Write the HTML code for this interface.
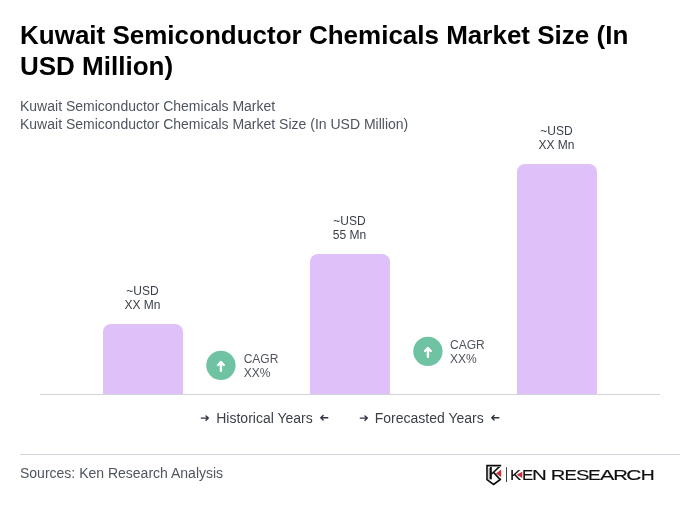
<!DOCTYPE html>
<html><head><meta charset="utf-8">
<style>
html,body{margin:0;padding:0;background:#fff;}
body{width:700px;height:520px;position:relative;overflow:hidden;font-family:"Liberation Sans",sans-serif;color:#111;}
h1{position:absolute;left:20px;top:20px;margin:0;font-size:26px;line-height:31px;font-weight:bold;color:#000;width:660px;}
.sub{position:absolute;left:20px;font-size:14px;line-height:18px;color:#4e555f;white-space:nowrap;}
.bar{position:absolute;background:#dfc0f8;border-radius:8px 8px 0 0;width:80px;}
.lbl{position:absolute;width:80px;text-align:center;font-size:12px;line-height:14px;color:#3a3f48;}
.axis{position:absolute;left:40px;top:394px;width:620px;height:1px;background:#d1d5db;}
.cagr{position:absolute;font-size:12px;line-height:14px;color:#4e555f;}
.leg{position:absolute;top:409px;font-size:14px;line-height:18px;color:#3a3f48;white-space:nowrap;}
.hr{position:absolute;left:20px;top:454px;width:660px;height:1px;background:#d1d5db;}
.src{position:absolute;left:20px;top:464px;font-size:14px;line-height:18px;color:#4e555f;}
</style></head><body>
<h1>Kuwait Semiconductor Chemicals Market Size (In USD Million)</h1>
<div class="sub" style="top:97px">Kuwait Semiconductor Chemicals Market</div>
<div class="sub" style="top:115px">Kuwait Semiconductor Chemicals Market Size (In USD Million)</div>

<div class="bar" style="left:103px;top:324px;height:70px"></div>
<div class="bar" style="left:310px;top:254px;height:140px"></div>
<div class="bar" style="left:517px;top:164px;height:230px"></div>
<div class="lbl" style="left:102.5px;top:284px">~USD<br>XX Mn</div>
<div class="lbl" style="left:309.5px;top:214px">~USD<br>55 Mn</div>
<div class="lbl" style="left:516.5px;top:124px">~USD<br>XX Mn</div>
<div class="axis"></div>

<svg style="position:absolute;left:203px;top:348px" width="36" height="36" viewBox="203 348 36 36"><circle cx="220.9" cy="365.35" r="14.7" fill="#6fc3a3"/><path transform="translate(206.40 351.00)" d="M14.5 19.7V11.5M11.6 14L14.5 11.1L17.4 14" fill="none" stroke="#fff" stroke-width="2.4" stroke-linecap="round" stroke-linejoin="round"/></svg>
<div class="cagr" style="left:243.7px;top:352px">CAGR<br>XX%</div>
<svg style="position:absolute;left:410px;top:334px" width="36" height="36" viewBox="410 334 36 36"><circle cx="427.9" cy="351.35" r="14.7" fill="#6fc3a3"/><path transform="translate(413.40 337.00)" d="M14.5 19.7V11.5M11.6 14L14.5 11.1L17.4 14" fill="none" stroke="#fff" stroke-width="2.4" stroke-linecap="round" stroke-linejoin="round"/></svg>
<div class="cagr" style="left:450px;top:338px">CAGR<br>XX%</div>

<div class="leg" style="left:216.25px">Historical Years</div>
<div class="leg" style="left:374.75px">Forecasted Years</div>
<svg style="position:absolute;left:200px;top:413px" width="10" height="10" viewBox="0 0 10 10"><path d="M1.3 5.1H8.3M6 2.9L8.3 5.1L6 7.3" fill="none" stroke="#2f353f" stroke-width="1.45" stroke-linecap="round" stroke-linejoin="round"/></svg>
<svg style="position:absolute;left:318.7px;top:413px" width="10" height="10" viewBox="0 0 10 10"><path d="M8.8 4.7H1.8M4.1 2.5L1.8 4.7L4.1 6.9" fill="none" stroke="#2f353f" stroke-width="1.45" stroke-linecap="round" stroke-linejoin="round"/></svg>
<svg style="position:absolute;left:359px;top:413px" width="10" height="10" viewBox="0 0 10 10"><path d="M1.3 5.1H8.3M6 2.9L8.3 5.1L6 7.3" fill="none" stroke="#2f353f" stroke-width="1.45" stroke-linecap="round" stroke-linejoin="round"/></svg>
<svg style="position:absolute;left:490.15px;top:413px" width="10" height="10" viewBox="0 0 10 10"><path d="M8.8 4.7H1.8M4.1 2.5L1.8 4.7L4.1 6.9" fill="none" stroke="#2f353f" stroke-width="1.45" stroke-linecap="round" stroke-linejoin="round"/></svg>


<svg style="position:absolute;left:480px;top:460px" width="200" height="35" viewBox="480 460 200 35">
<path d="M501.2 465.6H487V479.6L493.6 484.4L500.9 479" fill="none" stroke="#0c0c0c" stroke-width="1.6" stroke-linejoin="miter"/>
<path d="M489.2 468V479.6" fill="none" stroke="#141414" stroke-width="0.6"/>
<text x="488.5" y="478.9" font-family="Liberation Sans, sans-serif" font-size="15.7" fill="#0c0c0c" stroke="#0c0c0c" stroke-width="0.25" textLength="12.4" lengthAdjust="spacingAndGlyphs">K</text>
<path d="M496 473.4L501.1 469.6V476.9Z" fill="#c8303a"/>
<path d="M506.5 467.2V482" stroke="#444" stroke-width="1"/>
<text y="480.2" font-family="Liberation Sans, sans-serif" font-size="15.2" fill="#101010" stroke="#101010" stroke-width="0.15"><tspan x="509.94" textLength="11.04" lengthAdjust="spacingAndGlyphs">K</tspan><tspan x="521.92" textLength="11.20" lengthAdjust="spacingAndGlyphs">E</tspan><tspan x="531.93" textLength="14.74" lengthAdjust="spacingAndGlyphs">N</tspan> <tspan x="550.74" textLength="14.60" lengthAdjust="spacingAndGlyphs">R</tspan><tspan x="564.49" textLength="12.31" lengthAdjust="spacingAndGlyphs">E</tspan><tspan x="576.08" textLength="13.44" lengthAdjust="spacingAndGlyphs">S</tspan><tspan x="588.14" textLength="12.68" lengthAdjust="spacingAndGlyphs">E</tspan><tspan x="599.96" textLength="14.38" lengthAdjust="spacingAndGlyphs">A</tspan><tspan x="613.24" textLength="14.60" lengthAdjust="spacingAndGlyphs">R</tspan><tspan x="626.34" textLength="15.05" lengthAdjust="spacingAndGlyphs">C</tspan><tspan x="640.71" textLength="13.96" lengthAdjust="spacingAndGlyphs">H</tspan></text>
<path d="M516.6 474.8L522.3 471.7V477.9Z" fill="#c8303a"/>
</svg>
<div class="hr"></div>
<div class="src">Sources: Ken Research Analysis</div>
</body></html>
